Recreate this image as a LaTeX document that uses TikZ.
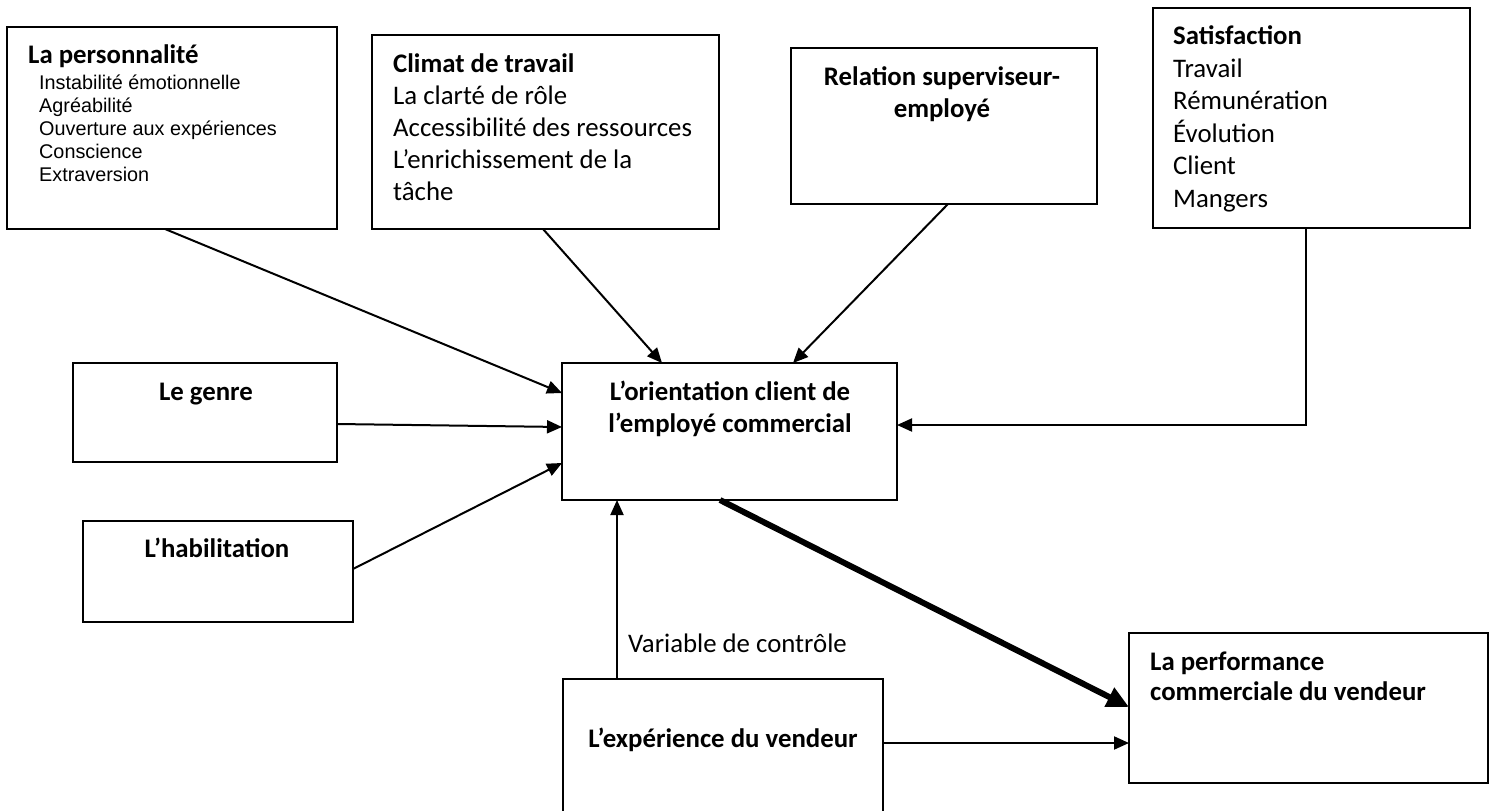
\documentclass[tikz,border=0pt]{standalone}
\usepackage{fontspec}
\setmainfont{Carlito}
\newfontfamily\arialf{Liberation Sans}
\usetikzlibrary{arrows.meta,calc}
\begin{document}
\begin{tikzpicture}[x=1pt,y=-1pt,
  box/.style={draw, line width=2pt, rectangle, inner sep=0pt, outer sep=0pt, anchor=north west},
  arr/.style={line width=2pt, -{Triangle[length=15pt,width=13pt]}},
  thickarr/.style={line width=6pt, -{Triangle[length=22pt,width=20pt]}},
  bt/.style={font=\bfseries\fontsize{26.8}{32}\selectfont, inner sep=0pt, anchor=base},
  btl/.style={font=\bfseries\fontsize{26.8}{32}\selectfont, inner sep=0pt, anchor=base west},
  rtl/.style={font=\fontsize{26.8}{32}\selectfont, inner sep=0pt, anchor=base west},
  atl/.style={font=\arialf\fontsize{19.8}{23}\selectfont, inner sep=0pt, anchor=base west}]
\clip (0,0) rectangle (1494,811);
\fill[white] (0,0) rectangle (1494,811);

% boxes
\node[box, minimum width=330pt, minimum height=202pt] (pers) at (7,27) {};
\node[box, minimum width=347pt, minimum height=194pt] (clim) at (372,35) {};
\node[box, minimum width=306pt, minimum height=156pt] (rel) at (791,48) {};
\node[box, minimum width=317pt, minimum height=220pt] (sat) at (1153,8) {};
\node[box, minimum width=335pt, minimum height=137pt] (ori) at (562,363) {};
\node[box, minimum width=264pt, minimum height=99pt] (genre) at (73,363) {};
\node[box, minimum width=270pt, minimum height=101pt] (hab) at (83,521) {};
\node[box, minimum width=320pt, minimum height=161pt] (exp) at (563,679) {};
\node[box, minimum width=359pt, minimum height=150pt] (perf) at (1129,633) {};

% texts
\node[btl] (persT) at (28,63) {La personnalité};
\node[atl] (p1) at (39,89) {Instabilité émotionnelle};
\node[atl] (p2) at (39,112) {Agréabilité};
\node[atl] (p3) at (39,135) {Ouverture aux expériences};
\node[atl] (p4) at (39,158) {Conscience};
\node[atl] (p5) at (39,181) {Extraversion};

\node[btl] (climT) at (393,72) {Climat de travail};
\node[rtl] (c1) at (393,104) {La clarté de rôle};
\node[rtl] (c2) at (393,136) {Accessibilité des ressources};
\node[rtl] (c3) at (393,168) {L’enrichissement de la};
\node[rtl] (c4) at (393,200) {tâche};

\node[bt] (relT1) at (942,85) {Relation superviseur-};
\node[bt] (relT2) at (942,117) {employé};

\node[btl] (satT) at (1173,44) {Satisfaction};
\node[rtl] (s1) at (1173,77) {Travail};
\node[rtl] (s2) at (1173,109) {Rémunération};
\node[rtl] (s3) at (1173,142) {Évolution};
\node[rtl] (s4) at (1173,174) {Client};
\node[rtl] (s5) at (1173,207) {Mangers};

\node[bt] (oriT1) at (730,400) {L’orientation client de};
\node[bt] (oriT2) at (730,432) {l’employé commercial};

\node[bt] (genreT) at (206,400) {Le genre};
\node[bt] (habT) at (217,557) {L’habilitation};
\node[bt] (expT) at (723,747) {L’expérience du vendeur};
\node[rtl] (varT) at (628,652) {Variable de contrôle};
\node[btl] (perfT1) at (1150,670) {La performance};
\node[btl] (perfT2) at (1150,700) {commerciale du vendeur};

% connectors
\draw[arr] ($(pers.south west)+(158,0)$) -- ($(ori.north west)+(0,30)$);
\draw[arr] ($(clim.south west)+(171,0)$) -- ($(ori.north west)+(100,0)$);
\draw[arr] ($(rel.south west)+(157,0)$) -- ($(ori.north west)+(231,0)$);
\coordinate (satc) at (1306,425);
\draw[arr] ($(sat.south west)+(153,0)$) -- (satc) -- (satc -| ori.east);
\draw[arr] ($(genre.north east)+(0,61)$) -- ($(ori.north west)+(0,64)$);
\draw[arr] ($(hab.north east)+(0,48)$) -- ($(ori.north west)+(0,100)$);
\draw[arr] ($(exp.north west)+(54,0)$) -- ($(ori.south west)+(55,0)$);
\draw[arr] ($(exp.north east)+(0,64)$) -- ($(perf.north west)+(0,110)$);
\draw[thickarr] ($(ori.south west)+(158,0)$) -- ($(perf.north west)+(0,74)$);
\end{tikzpicture}
\end{document}
